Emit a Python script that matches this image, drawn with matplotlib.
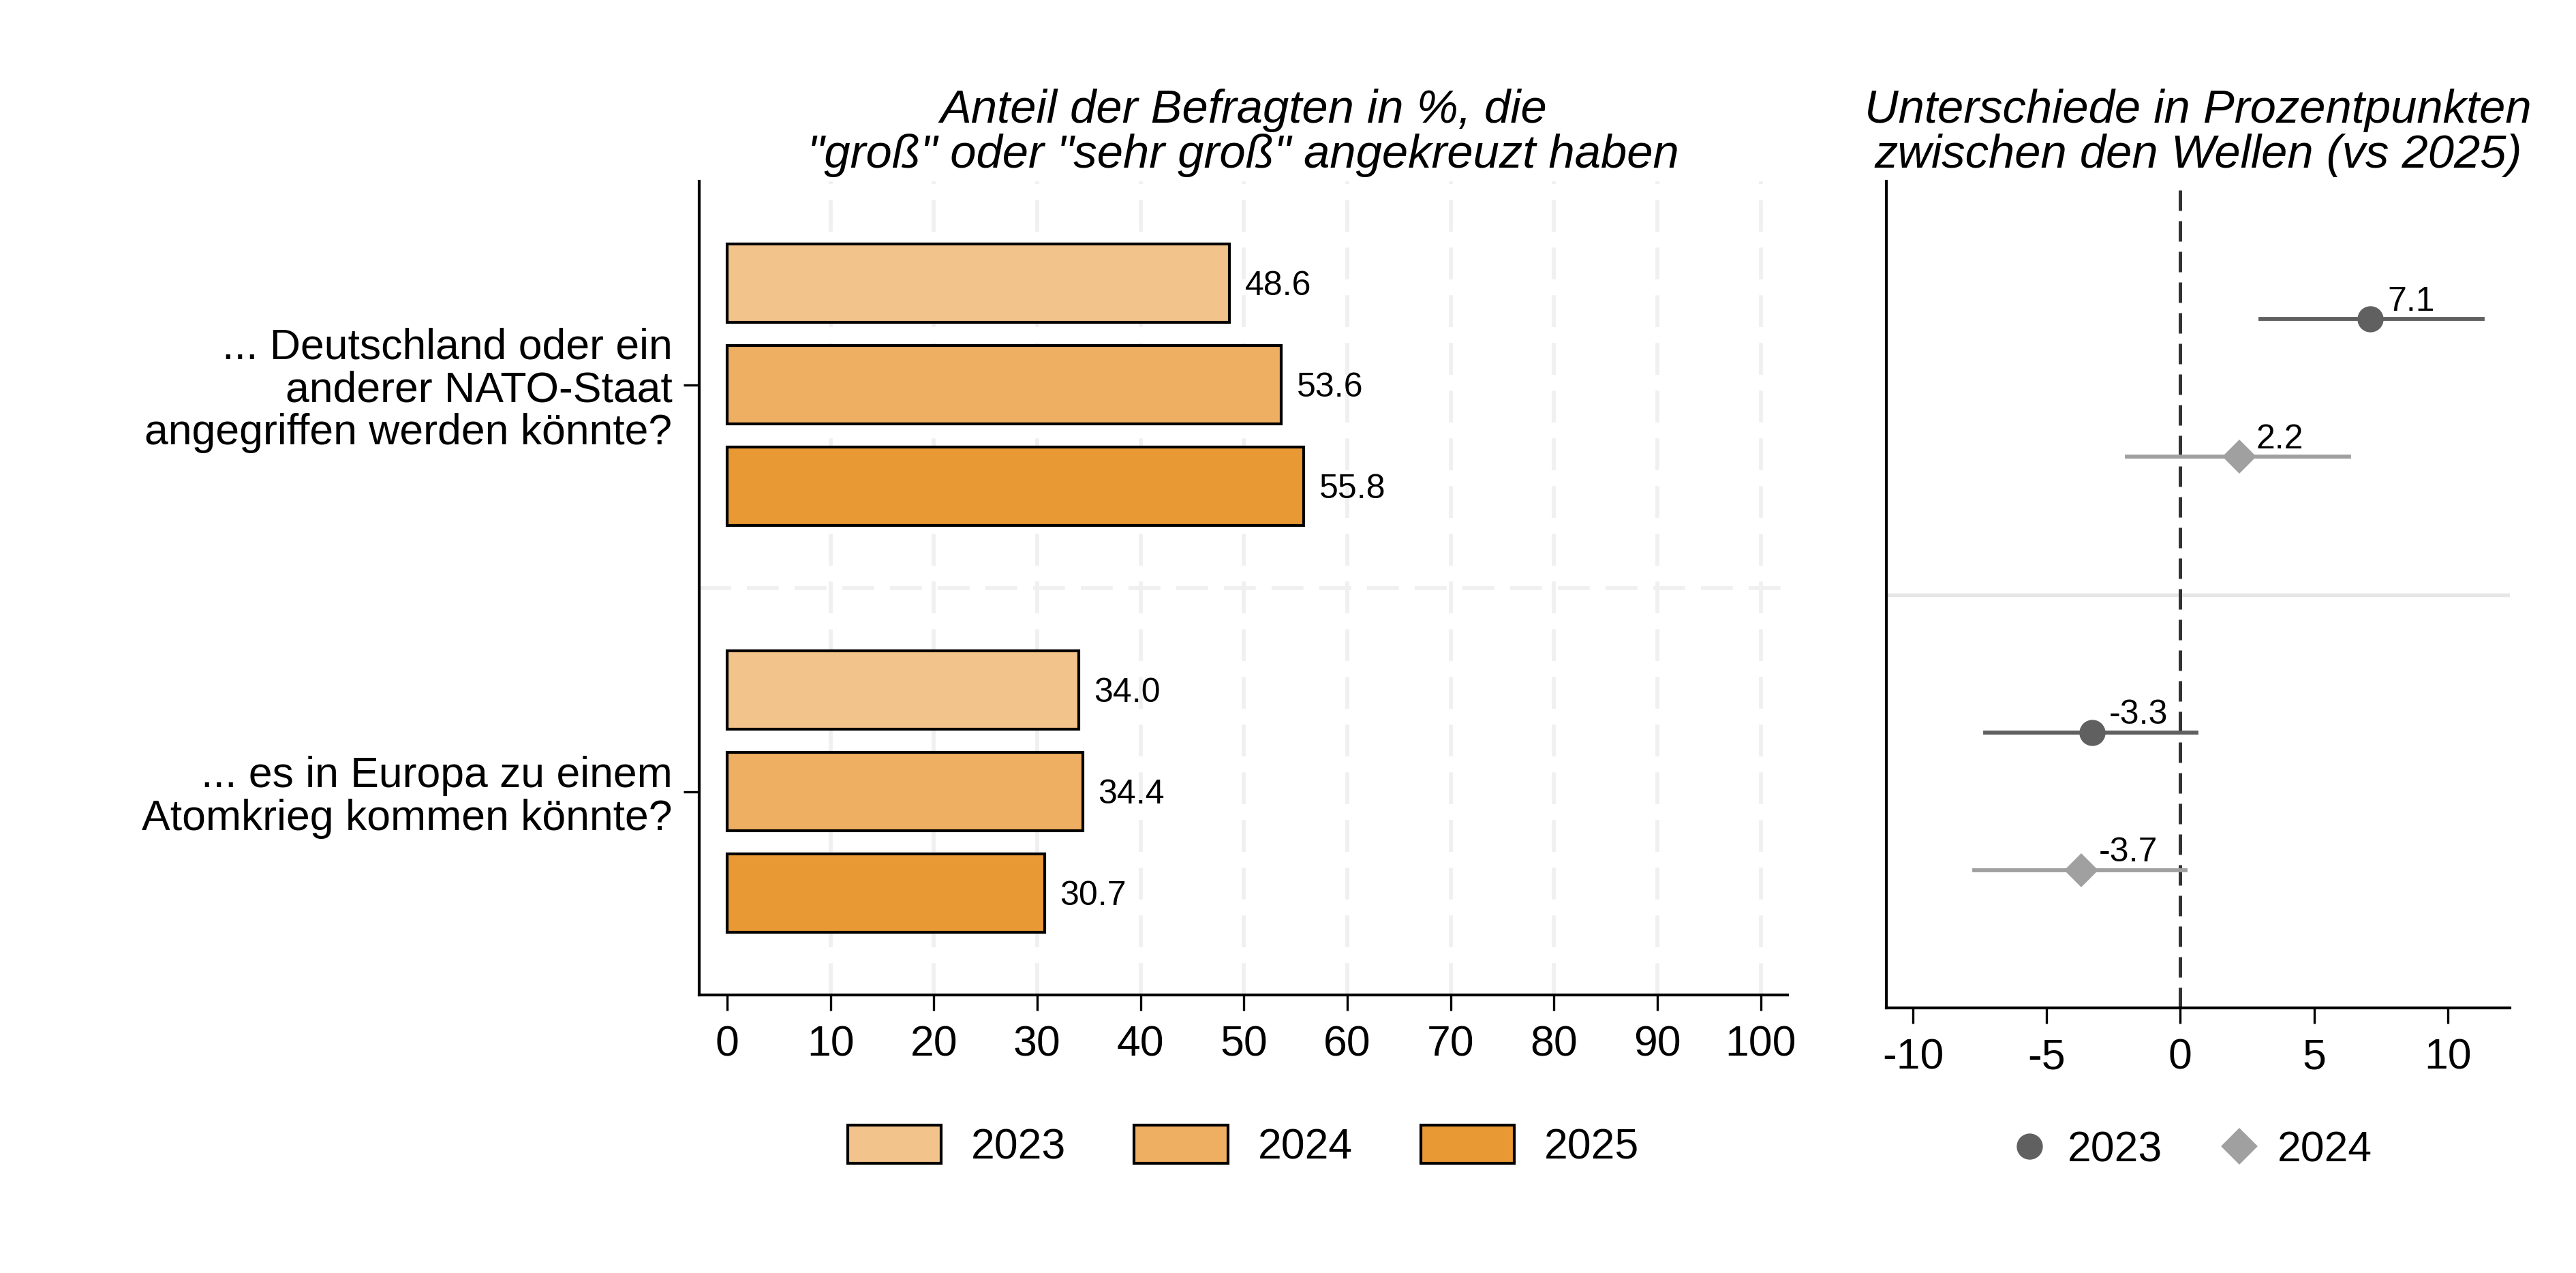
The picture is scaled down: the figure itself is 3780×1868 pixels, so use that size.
import matplotlib
matplotlib.use("Agg")
import matplotlib.pyplot as plt
from matplotlib.patches import Patch
from matplotlib.lines import Line2D

plt.rcParams['font.family'] = ['Liberation Sans', 'DejaVu Sans']
plt.rcParams['axes.unicode_minus'] = False

# data
questions = ["... Deutschland oder ein\nanderer NATO-Staat\nangegriffen werden könnte?",
             "... es in Europa zu einem\nAtomkrieg kommen könnte?"]
years = ["2023", "2024", "2025"]
share_2023 = [48.6, 34.0]
share_2024 = [53.6, 34.4]
share_2025 = [55.8, 30.7]

diff_years = ["2023", "2024"]
diff_2023 = [7.1, -3.3]
diff_2023_lo = [3.0, -7.3]
diff_2023_hi = [11.3, 0.6]
diff_2024 = [2.2, -3.7]
diff_2024_lo = [-2.0, -7.7]
diff_2024_hi = [6.3, 0.2]

bar_colors = ["#F2C48B", "#EEAF62", "#E99934"]
dot_colors = ["#606060", "#A0A0A0"]

W, H = 3780, 1868
fig = plt.figure(figsize=(W / 300, H / 300), dpi=300)

ax = fig.add_axes([1026 / W, 1 - 1460 / H, (2623 - 1026) / W, (1460 - 266) / H])
ax2 = fig.add_axes([2768 / W, 1 - 1479 / H, (3683 - 2768) / W, (1479 - 266) / H])

# ---- left: bars
shares = [share_2023, share_2024, share_2025]
for q in range(len(questions)):
    for k in range(len(years)):
        y = q * 4 + k
        ax.barh(y, shares[k][q], height=0.77, color=bar_colors[k],
                edgecolor="black", linewidth=1.0, zorder=3)
        ax.text(shares[k][q] + 1.5, y + 0.03, f"{shares[k][q]:.1f}", va="center",
                ha="left", fontsize=12, zorder=4)

grid_kw = dict(color="#F0F0F0", linewidth=1.4, linestyle=(0, (8, 4)), zorder=1)
for gx in range(10, 101, 10):
    ax.axvline(gx, **grid_kw)
ax.axhline(3, **grid_kw)

ax.set_xlim(-2.7, 102.6)
ax.set_ylim(7, -1)
ax.set_xticks(range(0, 101, 10))
ax.set_yticks([1, 5])
ax.set_yticklabels(questions, fontsize=15, linespacing=1.08)
ax.tick_params(axis="x", labelsize=15, length=5.5, width=0.8, pad=5)
ax.tick_params(axis="y", length=5.5, width=0.8, pad=4)
for s in ["top", "right"]:
    ax.spines[s].set_visible(False)
for s in ["left", "bottom"]:
    ax.spines[s].set_linewidth(1.0)
ax.set_title("Anteil der Befragten in %, die\n\"groß\" oder \"sehr groß\" angekreuzt haben",
             fontsize=16.5, style="italic", pad=4.7, linespacing=1.05)

handles = [Patch(facecolor=c, edgecolor="black", linewidth=1.0) for c in bar_colors]
ax.legend(handles, years, loc="center", bbox_to_anchor=(0.5, -0.186), ncol=3,
          frameon=False, fontsize=15, handlelength=2.2, handleheight=1.0,
          handletextpad=0.7, columnspacing=1.6, borderpad=0)

# ---- right: differences
diffs = [(diff_2023, diff_2023_lo, diff_2023_hi, "o"),
         (diff_2024, diff_2024_lo, diff_2024_hi, "D")]
for q in range(len(questions)):
    for k, (vals, lo, hi, mk) in enumerate(diffs):
        y = q * 3 + k
        ax2.plot([lo[q], hi[q]], [y, y], color=dot_colors[k], linewidth=1.4, zorder=3)
        ms = 8.2 if mk == "o" else 7.6
        ax2.plot(vals[q], y, marker=mk, color=dot_colors[k], markersize=ms,
                 linestyle="none", zorder=4)
        ax2.annotate(f"{vals[q]:.1f}", (vals[q], y), xytext=(6, 3),
                     textcoords="offset points", ha="left", va="baseline",
                     fontsize=12, zorder=5)

ax2.axhline(2, color="#E6E6E6", linewidth=1.3, zorder=1)
ax2.axvline(0, color="#333333", linewidth=1.2, linestyle=(0, (6, 3)), zorder=2)
ax2.set_xlim(-11.0, 12.33)
ax2.set_ylim(5, -1)
ax2.set_xticks([-10, -5, 0, 5, 10])
ax2.set_yticks([])
ax2.tick_params(axis="x", labelsize=15, length=5.5, width=0.8, pad=5)
for s in ["top", "right"]:
    ax2.spines[s].set_visible(False)
for s in ["left", "bottom"]:
    ax2.spines[s].set_linewidth(1.0)
ax2.set_title("Unterschiede in Prozentpunkten\nzwischen den Wellen (vs 2025)",
              fontsize=16.5, style="italic", pad=4.7, linespacing=1.05)

handles2 = [Line2D([], [], marker="o", color=dot_colors[0], linestyle="none", markersize=8.2),
            Line2D([], [], marker="D", color=dot_colors[1], linestyle="none", markersize=8.0)]
ax2.legend(handles2, diff_years, loc="center", bbox_to_anchor=(0.487, -0.172), ncol=2,
           frameon=False, fontsize=15, handlelength=1.0, handletextpad=0.4,
           columnspacing=1.3, borderpad=0)

fig.savefig("out.png", dpi=300, facecolor="white")
